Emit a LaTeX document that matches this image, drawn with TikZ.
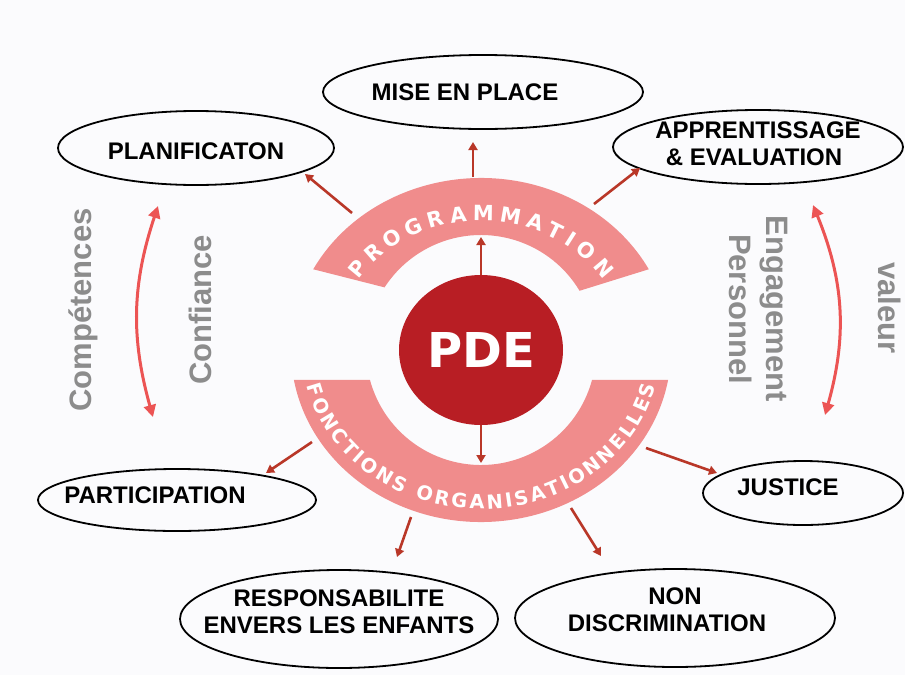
\documentclass[tikz,border=0pt]{standalone}
\usepackage{fontspec}
\setmainfont{Liberation Sans}
\newfontfamily\wideface{DejaVu Sans}
\usetikzlibrary{shapes.geometric,decorations.text,arrows.meta,calc}

\definecolor{bgcol}{RGB}{251,251,253}
\definecolor{ringpink}{RGB}{240,140,140}
\definecolor{pdered}{RGB}{184,30,36}
\definecolor{arrowred}{RGB}{185,55,40}
\definecolor{sidered}{RGB}{236,84,84}
\definecolor{greytxt}{RGB}{140,140,140}

\newcommand\topringfont{\wideface\bfseries\fontsize{21}{21}\selectfont}
\newcommand\botringfont{\wideface\bfseries\fontsize{19.5}{19.5}\selectfont}

\begin{document}
\begin{tikzpicture}[x=1pt,y=1pt,
  bubble/.style={ellipse, draw=black, line width=1.8pt, inner xsep=-90pt, inner ysep=-30pt,
    outer sep=0pt, font=\fontsize{24}{27}\selectfont\bfseries, align=center},
  link/.style={draw=arrowred, line width=2.6pt, -{Triangle[length=8pt,width=9pt]}},
  swing/.style={draw=sidered, line width=3pt,
    {Triangle[length=12pt,width=12pt]}-{Triangle[length=12pt,width=12pt]}},
  sidetxt/.style={text=greytxt, font=\fontsize{31}{37}\selectfont\bfseries, align=center, inner sep=0pt},
  band/.style={fill=ringpink}
]
\fill[bgcol] (0,0) rectangle (905,-675);
\useasboundingbox (0,0) rectangle (905,-675);

\coordinate (C) at (481,-350);

% rings
\path[band] ($(C)+(152:190 and 172)$) arc[start angle=152, end angle=28, x radius=190, y radius=172]
  -- ($(C)+(31:115)$) arc[start angle=31, end angle=147, radius=115] -- cycle;
\path[band] ($(C)+(190:190 and 172)$) arc[start angle=190, end angle=350, x radius=190, y radius=172]
  -- ($(C)+(345:115)$) arc[start angle=345, end angle=195, radius=115] -- cycle;

% ring texts
\path[decorate, decoration={text along path, text color=white,
  text={|\topringfont|PROGRAMMATION}, text align=fit to path}]
  ($(C)+(147:146 and 129)$) arc[start angle=147, end angle=33, x radius=146, y radius=129];
\path[decorate, decoration={text along path, text color=white,
  text={|\botringfont|FONCTIONS ORGANISATIONNELLES}, text align=fit to path}]
  ($(C)+(193:179 and 159)$) arc[start angle=193, end angle=347, x radius=179, y radius=159];

% centre
\node[ellipse, fill=pdered, minimum width=164pt, minimum height=150pt, inner sep=0pt,
  text=white, font=\wideface\bfseries\fontsize{48}{48}\selectfont] (pde) at (C) {PDE};

% ellipses
\node[bubble, minimum width=276pt, minimum height=74pt, text height=24pt] (plan) at (196,-148) {PLANIFICATON};
\node[bubble, minimum width=320pt, minimum height=74pt] (mise) at (483,-92) {MISE EN PLACE\hspace*{36pt}};
\node[bubble, minimum width=290pt, minimum height=74pt, text depth=6pt] (appr) at (758,-147) {APPRENTISSAGE\\\& EVALUATION\hspace*{8pt}};
\node[bubble, minimum width=278pt, minimum height=62pt, text depth=10pt] (part) at (177,-500) {PARTICIPATION\hspace*{44pt}};
\node[bubble, minimum width=200pt, minimum height=64pt, text depth=12pt] (just) at (803,-493) {JUSTICE\hspace*{30pt}};
\node[bubble, minimum width=318pt, minimum height=98pt, text depth=15pt] (resp) at (339,-619) {RESPONSABILITE\\ENVERS LES ENFANTS};
\node[bubble, minimum width=320pt, minimum height=98pt, text depth=17pt] (nond) at (675,-618) {NON\\DISCRIMINATION\hspace*{16pt}};

% arrow end points
\coordinate (a1s) at (352,-213); \coordinate (a1e) at (305,-174);
\coordinate (a2s) at (473,-177); \coordinate (a2e) at (473,-142);
\coordinate (a3s) at (594,-204); \coordinate (a3e) at (640,-168);
\coordinate (a4e) at (481,-237);
\coordinate (a5e) at (481,-463);
\coordinate (a6s) at (312,-442); \coordinate (a6e) at (266,-473);
\coordinate (a7s) at (646,-448); \coordinate (a7e) at (717,-473);
\coordinate (a8s) at (411,-517); \coordinate (a8e) at (397,-557);
\coordinate (a9s) at (571,-508); \coordinate (a9e) at (601,-556);

\draw[link] (a1s) -- (a1e);
\draw[link] (a2s) -- (a2e);
\draw[link] (a3s) -- (a3e);
\draw[link] (pde.north) -- (a4e);
\draw[link] (pde.south) -- (a5e);
\draw[link] (a6s) -- (a6e);
\draw[link] (a7s) -- (a7e);
\draw[link] (a8s) -- (a8e);
\draw[link] (a9s) -- (a9e);

% side swings
\coordinate (l1) at (158,-206); \coordinate (l2) at (153,-417);
\coordinate (r1) at (813,-205); \coordinate (r2) at (825,-415);
\draw[swing] (l1) to[bend right=17] (l2);
\draw[swing] (r1) to[bend left=19] (r2);

% side texts
\node[sidetxt, rotate=90] (comp) at (83,-310) {Compétences};
\node[sidetxt, rotate=90] (conf) at (200,-310) {Confiance};
\node[sidetxt, rotate=-90] (eng) at (759,-309) {Engagement\\Personnel};
\node[sidetxt, rotate=-90] (val) at (890,-308) {valeur};
\end{tikzpicture}
\end{document}
